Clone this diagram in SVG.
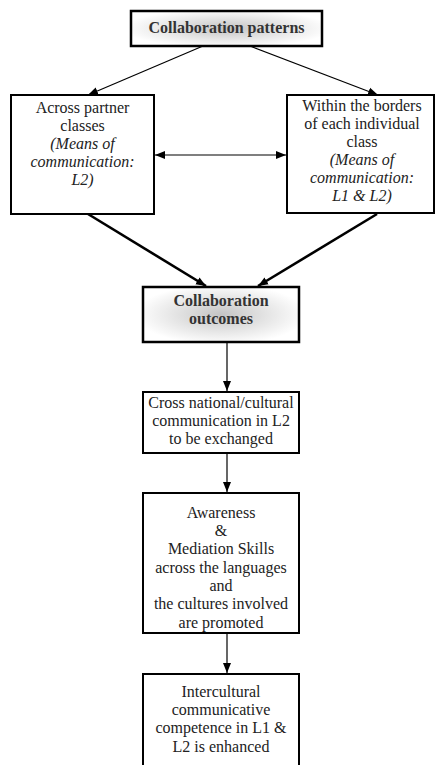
<svg xmlns="http://www.w3.org/2000/svg" width="435" height="765" viewBox="0 0 435 765">
<style>
.box{fill:#fff;stroke:#000;stroke-width:2}
.glow{stroke:#000;stroke-width:2.5}
.t{font-family:'Liberation Serif','DejaVu Serif',serif;font-size:16px;fill:#222;text-anchor:middle}
.b{font-weight:bold;fill:#333}
.i{font-style:italic}
.thin{stroke:#000;stroke-width:1.2;fill:none}
.thick{stroke:#000;stroke-width:2.6;fill:none}
</style>
<defs>
<radialGradient id="g" cx="50%" cy="50%" r="55%">
<stop offset="0" stop-color="#c4c4c4"/>
<stop offset="0.6" stop-color="#e8e8e8"/>
<stop offset="1" stop-color="#ffffff"/>
</radialGradient>
<marker id="a" markerUnits="userSpaceOnUse" markerWidth="10" markerHeight="10" viewBox="0 0 10 10" refX="10" refY="5" orient="auto">
<path d="M0,1 L10,5 L0,9 Z" fill="#000"/>
</marker>
<marker id="as" markerUnits="userSpaceOnUse" markerWidth="10" markerHeight="10" viewBox="0 0 10 10" refX="0" refY="5" orient="auto">
<path d="M10,1 L0,5 L10,9 Z" fill="#000"/>
</marker>
</defs>
<g id="connectors">
<line class="thin" x1="203" y1="46" x2="88" y2="95" marker-end="url(#a)"/>
<line class="thin" x1="250" y1="46" x2="378" y2="95" marker-end="url(#a)"/>
<line class="thin" x1="155" y1="155" x2="286" y2="155" marker-start="url(#as)" marker-end="url(#a)"/>
<line class="thick" x1="88" y1="214" x2="206" y2="286" marker-end="url(#a)"/>
<line class="thick" x1="377" y1="214" x2="258" y2="286" marker-end="url(#a)"/>
<line class="thin" x1="227" y1="343" x2="227" y2="391" marker-end="url(#a)"/>
<line class="thin" x1="227" y1="454" x2="227" y2="492" marker-end="url(#a)"/>
<line class="thin" x1="227" y1="634" x2="227" y2="673" marker-end="url(#a)"/>
</g>
<g id="patterns">
<rect class="glow" x="131" y="11" width="191" height="35" fill="url(#g)"/>
<text class="t b" x="226.500" y="33" font-family="Liberation Serif, serif">Collaboration patterns</text>
</g>
<g id="across" class="t" font-family="Liberation Serif, serif">
<rect class="box" x="11" y="95" width="143" height="119"/>
<text x="82.500" y="113">Across partner</text>
<text x="82.500" y="131">classes</text>
<text class="i" x="82.500" y="149">(Means of</text>
<text class="i" x="82.500" y="167">communication:</text>
<text class="i" x="82.500" y="185">L2)</text>
</g>
<g id="within" class="t" font-family="Liberation Serif, serif">
<rect class="box" x="287" y="95" width="147" height="118"/>
<text x="362" y="111">Within the borders</text>
<text x="362" y="129">of each individual</text>
<text x="362" y="147">class</text>
<text class="i" x="362" y="165">(Means of</text>
<text class="i" x="362" y="183">communication:</text>
<text class="i" x="362" y="201">L1 &amp; L2)</text>
</g>
<g id="outcomes" class="t" font-family="Liberation Serif, serif">
<rect class="glow" x="143" y="287" width="156" height="55" fill="url(#g)"/>
<text class="b" x="221" y="306">Collaboration</text>
<text class="b" x="221" y="324">outcomes</text>
</g>
<g id="cross" class="t" font-family="Liberation Serif, serif">
<rect class="box" x="143" y="392" width="156" height="61"/>
<text x="221" y="408">Cross national/cultural</text>
<text x="221" y="426">communication in L2</text>
<text x="221" y="444">to be exchanged</text>
</g>
<g id="awareness" class="t" font-family="Liberation Serif, serif">
<rect class="box" x="143" y="493" width="156" height="140"/>
<text x="221" y="518">Awareness</text>
<text x="221" y="536">&amp;</text>
<text x="221" y="554">Mediation Skills</text>
<text x="221" y="573">across the languages</text>
<text x="221" y="591">and</text>
<text x="221" y="609">the cultures involved</text>
<text x="221" y="628">are promoted</text>
</g>
<g id="intercultural" class="t" font-family="Liberation Serif, serif">
<rect class="box" x="143" y="674" width="156" height="95"/>
<text x="221" y="697">Intercultural</text>
<text x="221" y="715">communicative</text>
<text x="221" y="733">competence in L1 &amp;</text>
<text x="221" y="752">L2 is enhanced</text>
</g>
</svg>
